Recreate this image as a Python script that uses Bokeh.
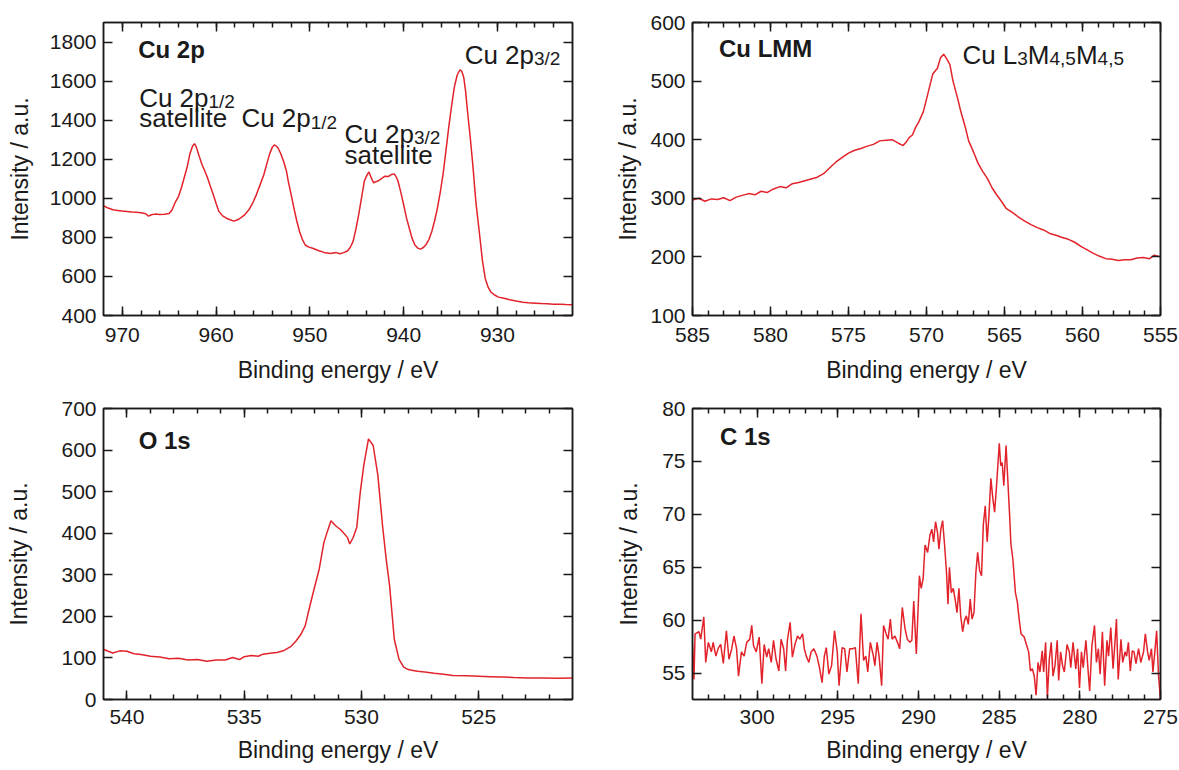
from bokeh.plotting import figure
from bokeh.models import Range1d, LinearAxis, FixedTicker, Label
from bokeh.layouts import gridplot
from bokeh.embed import file_html
from bokeh.resources import INLINE

FONT = "Liberation Sans"
RED = "#e2232b"
INK = "#1a1a1a"

# ---------------- data ----------------
cu2p_be = [972.0, 971.5, 971.0, 970.5, 970.0, 969.5, 969.0, 968.5, 968.0, 967.5, 967.2, 966.9,
           966.5, 966.0, 965.5, 965.0, 964.7, 964.4, 964.0, 963.7, 963.4, 963.1, 962.8, 962.5,
           962.3, 962.1, 961.8, 961.5, 961.2, 960.9, 960.6, 960.3, 960.0, 959.7, 959.3, 958.9,
           958.5, 958.1, 957.7, 957.3, 956.9, 956.5, 956.1, 955.7, 955.3, 954.9, 954.6, 954.3,
           954.0, 953.8, 953.6, 953.4, 953.1, 952.8, 952.5, 952.3, 952.0, 951.7, 951.4, 951.1,
           950.8, 950.5, 950.1, 949.7, 949.1, 948.5, 947.8, 947.2, 946.8, 946.4, 946.0, 945.7,
           945.4, 945.1, 944.8, 944.5, 944.2, 943.9, 943.7, 943.5, 943.2, 943.0, 942.8, 942.4,
           942.0, 941.6, 941.3, 941.0, 940.8, 940.6, 940.3, 940.0, 939.7, 939.4, 939.1, 938.8,
           938.5, 938.2, 937.9, 937.6, 937.3, 937.0, 936.7, 936.4, 936.1, 935.8, 935.5, 935.2,
           934.9, 934.6, 934.3, 934.0, 933.8, 933.6, 933.4, 933.2, 932.9, 932.6, 932.3, 931.9,
           931.6, 931.3, 931.0, 930.7, 930.3, 929.9, 929.3, 928.7, 928.0, 927.3, 926.7, 926.0,
           925.3, 924.7, 924.0, 923.3, 922.7, 922.0]
cu2p_int = [962, 950, 941, 938, 935, 933, 930, 928, 926, 921, 909, 916,
            919, 917, 918, 922, 940, 975, 1010, 1053, 1105, 1156, 1225, 1268,
            1280, 1262, 1215, 1173, 1140, 1104, 1060, 1019, 975, 933, 910, 898,
            890, 883, 890, 902, 918, 941, 975, 1019, 1070, 1122, 1175, 1225,
            1262, 1273, 1268, 1259, 1228, 1190, 1140, 1087, 1020, 950, 885, 830,
            790, 761, 750, 744, 733, 723, 718, 722, 716, 722, 730, 748,
            778, 840, 915, 1000, 1087, 1120, 1135, 1110, 1079, 1085, 1087, 1100,
            1113, 1112, 1122, 1125, 1110, 1087, 1030, 967, 900, 847, 795, 761,
            745, 740, 748, 764, 790, 830, 885, 950, 1030, 1122, 1240, 1362,
            1470, 1568, 1630, 1658, 1650, 1620, 1550, 1448, 1310, 1156, 980, 812,
            680, 589, 545, 520, 505, 494, 488, 481, 474, 468, 465, 463,
            461, 460, 458, 457, 456, 455]

lmm_be = [585.0, 584.6, 584.2, 583.8, 583.4, 583.0, 582.6, 582.2, 581.8, 581.4, 581.0, 580.6,
          580.2, 579.8, 579.4, 579.0, 578.6, 578.2, 577.8, 577.4, 577.0, 576.6, 576.2, 575.8,
          575.4, 575.0, 574.6, 574.2, 573.8, 573.4, 573.0, 572.6, 572.2, 571.8, 571.5, 571.3,
          571.1, 570.9, 570.7, 570.5, 570.2, 569.9, 569.6, 569.3, 569.1, 568.9, 568.7, 568.5,
          568.3, 568.0, 567.8, 567.5, 567.3, 567.0, 566.7, 566.4, 566.1, 565.8, 565.5, 565.2,
          564.9, 564.5, 564.1, 563.7, 563.3, 562.9, 562.5, 562.1, 561.7, 561.3, 560.9, 560.5,
          560.1, 559.7, 559.3, 558.9, 558.5, 558.1, 557.7, 557.3, 556.9, 556.5, 556.1, 555.7,
          555.4, 555.0]
lmm_int = [297, 300, 295, 299, 298, 301, 296, 302, 305, 308, 306, 312,
           310, 316, 320, 318, 325, 327, 330, 333, 336, 342, 352, 362,
           370, 377, 382, 385, 389, 392, 398, 399, 400, 394, 390, 396,
           404, 408, 421, 430, 448, 480, 512, 522, 540, 546, 538, 528,
           500, 470, 448, 420, 398, 380, 360, 346, 334, 318, 306, 295,
           283, 276, 268, 261, 255, 250, 246, 240, 237, 233, 230, 225,
           218, 212, 206, 201, 197, 196, 194, 195, 195, 198, 199, 197,
           203, 200]

o1s_be = [541.0, 540.8, 540.6, 540.3, 540.0, 539.7, 539.4, 539.0, 538.6, 538.2, 537.8, 537.4,
          537.0, 536.6, 536.2, 535.8, 535.5, 535.2, 535.0, 534.7, 534.4, 534.2, 533.9, 533.6,
          533.3, 533.0, 532.8, 532.6, 532.4, 532.2, 532.0, 531.8, 531.6, 531.45, 531.3, 531.1,
          530.9, 530.75, 530.6, 530.5, 530.35, 530.2, 530.05, 529.9, 529.7, 529.5, 529.3, 529.1,
          528.95, 528.8, 528.6, 528.4, 528.2, 528.0, 527.8, 527.6, 527.3, 526.9, 526.5, 526.1,
          525.5, 525.0, 524.5, 524.0, 523.5, 522.9, 522.3, 521.6, 521.0]
o1s_int = [121, 116, 112, 117, 116, 110, 108, 104, 102, 98, 99, 95,
           96, 92, 95, 95, 101, 96, 103, 106, 104, 109, 111, 113,
           118, 128, 140, 155, 177, 225, 270, 314, 378, 405, 430, 418,
           409, 400, 390, 374, 390, 414, 499, 563, 627, 611, 539, 418,
           340, 274, 145, 97, 78, 72, 70, 68, 66, 63, 61, 58,
           57, 56, 55, 54, 53, 52, 52, 51, 52]

c1s_be = [304.00, 303.91, 303.84, 303.60, 303.49, 303.30, 303.18, 303.02, 302.83, 302.72, 302.55,
          302.39, 302.25, 302.09, 301.90, 301.74, 301.57, 301.43, 301.27, 301.15, 300.97, 300.80,
          300.64, 300.45, 300.33, 300.22, 300.05, 299.87, 299.70, 299.56, 299.40, 299.28, 299.12,
          298.98, 298.82, 298.65, 298.51, 298.35, 298.23, 298.12, 297.95, 297.81, 297.65, 297.49,
          297.35, 297.18, 297.07, 296.95, 296.79, 296.65, 296.48, 296.29, 296.13, 295.97, 295.83,
          295.71, 295.55, 295.38, 295.20, 295.03, 294.92, 294.73, 294.57, 294.43, 294.26, 294.08,
          293.91, 293.73, 293.56, 293.40, 293.26, 293.14, 292.98, 292.79, 292.70, 292.56, 292.44,
          292.28, 292.16, 292.00, 291.88, 291.74, 291.63, 291.46, 291.30, 291.16, 291.00, 290.83,
          290.69, 290.53, 290.41, 290.29, 290.13, 289.94, 289.83, 289.71, 289.59, 289.43, 289.29,
          289.17, 289.06, 288.94, 288.82, 288.73, 288.61, 288.50, 288.38, 288.26, 288.17, 288.08,
          287.96, 287.84, 287.73, 287.61, 287.49, 287.38, 287.26, 287.14, 287.03, 286.91, 286.79,
          286.68, 286.56, 286.44, 286.33, 286.21, 286.09, 285.98, 285.86, 285.74, 285.63, 285.51,
          285.39, 285.28, 285.16, 284.99, 284.90, 284.81, 284.71, 284.57, 284.48, 284.34, 284.27,
          284.15, 283.99, 283.87, 283.76, 283.64, 283.45, 283.29, 283.17, 283.06, 282.94, 282.82,
          282.71, 282.59, 282.47, 282.33, 282.24, 282.12, 282.01, 281.89, 281.77, 281.66, 281.54,
          281.40, 281.31, 281.19, 281.07, 280.96, 280.79, 280.65, 280.56, 280.42, 280.25, 280.14,
          280.02, 279.90, 279.79, 279.62, 279.48, 279.39, 279.25, 279.09, 278.97, 278.85, 278.74,
          278.60, 278.46, 278.32, 278.22, 278.08, 277.94, 277.85, 277.73, 277.62, 277.45, 277.34,
          277.20, 277.10, 276.99, 276.87, 276.75, 276.64, 276.52, 276.36, 276.22, 276.05, 275.94,
          275.80, 275.70, 275.56, 275.47, 275.35, 275.24, 275.12, 275.00]
c1s_int = [57.7, 54.4, 58.7, 58.9, 58.2, 60.3, 56.0, 57.9, 57.0, 57.9, 56.6,
           57.4, 57.7, 55.9, 59.0, 56.3, 57.3, 58.5, 57.3, 54.7, 57.0, 56.6,
           57.9, 58.2, 59.5, 57.6, 57.0, 58.4, 54.0, 57.7, 56.5, 57.3, 56.0,
           58.1, 56.3, 55.2, 58.2, 57.3, 55.2, 58.1, 59.8, 56.5, 57.7, 58.5,
           58.2, 58.7, 57.3, 56.6, 56.0, 57.0, 57.3, 56.6, 55.5, 54.1, 56.6,
           57.4, 54.9, 55.7, 59.0, 57.0, 53.8, 57.4, 57.3, 55.1, 57.3, 57.3,
           57.4, 54.0, 60.6, 56.2, 56.6, 55.1, 57.9, 56.6, 55.7, 57.9, 56.6,
           53.8, 59.5, 58.7, 58.2, 60.1, 58.2, 58.5, 57.9, 57.3, 61.2, 59.2,
           58.2, 57.9, 58.1, 61.8, 56.8, 64.2, 63.0, 63.9, 67.1, 66.4, 68.0,
           68.6, 67.4, 69.3, 68.3, 66.7, 68.6, 69.4, 67.1, 64.5, 61.5, 65.0,
           62.6, 63.0, 62.0, 60.7, 63.0, 60.4, 58.9, 60.0, 60.4, 59.6, 62.0,
           60.1, 60.7, 64.5, 66.4, 64.7, 64.2, 69.0, 70.8, 67.4, 69.9, 73.4,
           71.5, 70.2, 72.7, 76.7, 74.6, 74.9, 72.7, 76.5, 73.8, 69.6, 67.2,
           65.8, 62.6, 61.7, 60.1, 58.7, 58.4, 57.6, 57.0, 55.2, 55.4, 54.7,
           52.9, 56.0, 55.1, 57.1, 55.1, 57.9, 52.7, 56.3, 57.9, 54.7, 55.7,
           58.1, 54.3, 57.0, 55.7, 55.1, 57.7, 57.0, 55.5, 57.9, 55.4, 57.3,
           53.6, 57.0, 55.5, 58.1, 55.1, 53.3, 57.6, 59.5, 56.0, 57.3, 54.9,
           58.9, 53.8, 58.1, 56.6, 59.3, 55.4, 57.3, 60.1, 54.4, 58.2, 56.0,
           57.0, 56.6, 57.9, 55.2, 57.1, 57.0, 55.9, 57.3, 56.0, 57.0, 58.7,
           57.0, 56.2, 57.3, 55.1, 57.0, 59.0, 54.7, 52.5]

# axis ticks
cu2p_xticks = [970, 960, 950, 940, 930]
cu2p_yticks = [400, 600, 800, 1000, 1200, 1400, 1600, 1800]
lmm_xticks = [585, 580, 575, 570, 565, 560, 555]
lmm_yticks = [100, 200, 300, 400, 500, 600]
o1s_xticks = [540, 535, 530, 525]
o1s_yticks = [0, 100, 200, 300, 400, 500, 600, 700]
c1s_xticks = [300, 295, 290, 285, 280, 275]
c1s_yticks = [55, 60, 65, 70, 75, 80]

XLABEL = "Binding energy / eV"
YLABEL = "Intensity / a.u."

# approximate glyph widths (em) for building sub-scripted labels
W = {'C': .722, 'u': .556, ' ': .278, '2': .556, 'p': .556, '1': .556, '/': .278,
     '3': .556, 'L': .556, 'M': .833, '4': .556, ',': .278, '5': .556}

TICK_FS = "21px"
TITLE_FS = "23px"
ANN = 26
SUB = 19


def style_axis(ax, labels):
    ax.axis_line_color = INK
    ax.axis_line_width = 1.5
    ax.major_tick_in = 9
    ax.major_tick_out = 0
    ax.minor_tick_in = 5
    ax.minor_tick_out = 0
    ax.major_tick_line_color = INK
    ax.major_tick_line_width = 1.5
    ax.minor_tick_line_color = INK
    ax.minor_tick_line_width = 1.5
    if labels:
        ax.major_label_text_font = FONT
        ax.major_label_text_font_size = TICK_FS
        ax.major_label_text_color = INK
        ax.axis_label_text_font = FONT
        ax.axis_label_text_font_size = TITLE_FS
        ax.axis_label_text_font_style = "normal"
        ax.axis_label_text_color = INK
    else:
        ax.major_label_text_font_size = "1px"
        ax.major_label_text_color = None
        ax.major_label_standoff = 0


def make_panel(width, height, xr, yr, xt, xminor_step, yt, borders, be, it, name, nx, ny,
               xstand, ystand):
    bl, bt, br, bb = borders
    p = figure(width=width, height=height, x_range=Range1d(*xr), y_range=Range1d(*yr),
               output_backend="svg", toolbar_location=None,
               x_axis_type=None, y_axis_type=None,
               min_border_left=bl, min_border_top=bt, min_border_right=br, min_border_bottom=bb)
    p.background_fill_color = "white"
    p.border_fill_color = "white"
    p.outline_line_color = INK
    p.outline_line_width = 1.5
    lo, hi = min(xr), max(xr)
    n0 = int(lo // xminor_step) + 1
    minors = [k * xminor_step for k in range(n0, int(hi // xminor_step) + 1)
              if lo < k * xminor_step < hi]
    xtick = FixedTicker(ticks=xt, minor_ticks=minors)
    ytick = FixedTicker(ticks=yt, minor_ticks=[])
    xb = LinearAxis(ticker=xtick, axis_label=XLABEL)
    style_axis(xb, True)
    xb.major_label_standoff = xstand[0]
    xb.axis_label_standoff = xstand[1]
    p.add_layout(xb, "below")
    yl = LinearAxis(ticker=ytick, axis_label=YLABEL)
    style_axis(yl, True)
    yl.major_label_standoff = 7
    yl.axis_label_standoff = ystand
    p.add_layout(yl, "left")
    xa = LinearAxis(ticker=xtick)
    style_axis(xa, False)
    p.add_layout(xa, "above")
    yr_ax = LinearAxis(ticker=ytick)
    style_axis(yr_ax, False)
    p.add_layout(yr_ax, "right")
    p.line(be, it, line_color=RED, line_width=1.5)
    p.add_layout(Label(x=nx, y=ny, text=name, text_font=FONT, text_font_size="24px",
                       text_font_style="bold", text_color=INK, text_baseline="alphabetic"))
    return p


def rich(p, x, y, pieces):
    off = 0.0
    for txt, is_sub in pieces:
        fs = SUB if is_sub else ANN
        p.add_layout(Label(x=x, y=y, x_offset=off, y_offset=(-4 if is_sub else 0), text=txt,
                           text_font=FONT, text_font_size=f"{fs}px", text_color=INK,
                           text_baseline="alphabetic", text_align="left"))
        off += sum(W[c] for c in txt) * fs


def plain(p, x, y, txt):
    p.add_layout(Label(x=x, y=y, text=txt, text_font=FONT, text_font_size=f"{ANN}px",
                       text_color=INK, text_baseline="alphabetic"))


LW, RW = 598, 581
TH, BH = 393, 377

p1 = make_panel(LW, TH, (972, 922), (400, 1900), cu2p_xticks, 2, cu2p_yticks,
                (103, 22, 26, 78), cu2p_be, cu2p_int, "Cu 2p", 968.3, 1762, (12, 12), 14)
rich(p1, 968.2, 1515, [("Cu 2p", False), ("1/2", True)])
plain(p1, 968.2, 1410, "satellite")
rich(p1, 957.3, 1409, [("Cu 2p", False), ("1/2", True)])
rich(p1, 946.3, 1330, [("Cu 2p", False), ("3/2", True)])
plain(p1, 946.3, 1220, "satellite")
rich(p1, 933.5, 1735, [("Cu 2p", False), ("3/2", True)])

p2 = make_panel(RW, TH, (585, 555), (100, 600), lmm_xticks, 1, lmm_yticks,
                (94, 22, 19, 78), lmm_be, lmm_int, "Cu LMM", 583.3, 555, (12, 12), 6)
rich(p2, 567.7, 545, [("Cu L", False), ("3", True), ("M", False), ("4,5", True),
                       ("M", False), ("4,5", True)])

p3 = make_panel(LW, BH, (541, 521), (0, 700), o1s_xticks, 1, o1s_yticks,
                (103, 15, 26, 71), o1s_be, o1s_int, "O 1s", 539.5, 624, (10, 10), 26)

p4 = make_panel(RW, BH, (304, 275), (52.5, 80), c1s_xticks, 1, c1s_yticks,
                (94, 15, 19, 71), c1s_be, c1s_int, "C 1s", 302.3, 77.4, (10, 10), 17)

grid = gridplot([[p1, p2], [p3, p4]], toolbar_location=None)

with open("out.html", "w") as f:
    f.write(file_html(grid, INLINE))
